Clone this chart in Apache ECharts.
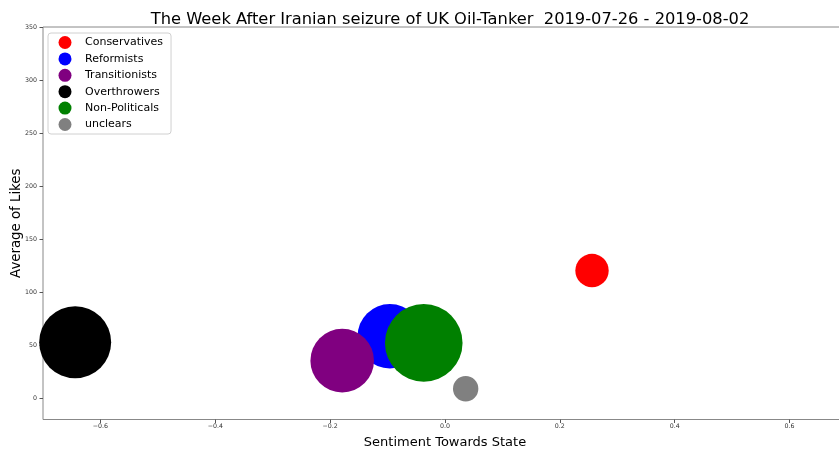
<!DOCTYPE html>
<html>
<head>
<meta charset="utf-8">
<script src="https://cdn.jsdelivr.net/npm/echarts@6/dist/echarts.min.js"></script>
<style>html,body{margin:0;padding:0;background:#fff}#c{width:839px;height:450px}</style>
</head>
<body>
<div id="c"></div>
<script>
const groups = ['Conservatives', 'Reformists', 'Transitionists', 'Overthrowers', 'Non-Politicals', 'unclears'];
const sentiment = [0.256, -0.096, -0.179, -0.644, -0.037, 0.036];
const avgLikes = [120.4, 58.5, 35.5, 52.8, 52.2, 9.0];
const weight = [279, 1043, 1011, 1296, 1505, 161];
const colors = ['#ff0000', '#0000ff', '#800080', '#000000', '#008000', '#808080'];
const xTicks = [-0.6, -0.4, -0.2, 0.0, 0.2, 0.4, 0.6];
const yTicks = [0, 50, 100, 150, 200, 250, 300, 350];

const font = 'DejaVu Sans';
const chart = echarts.init(document.getElementById('c'), null, {renderer: 'canvas'});
const series = groups.map((g, i) => ({
  name: g,
  type: 'scatter',
  data: [[sentiment[i], avgLikes[i], weight[i]]],
  symbolSize: d => 2 * Math.sqrt(d[2]),
  itemStyle: {color: colors[i], opacity: 1},
  emphasis: {disabled: true},
  z: 2 + i
}));
chart.setOption({
  animation: false,
  backgroundColor: '#fff',
  title: {
    text: 'The Week After Iranian seizure of UK Oil-Tanker  2019-07-26 - 2019-08-02',
    left: 445, textAlign: 'center', top: 6.5,
    textStyle: {fontFamily: font, fontSize: 16.3, fontWeight: 'normal', color: '#000'}
  },
  legend: {
    left: 48, top: 33, orient: 'vertical',
    icon: 'circle', itemWidth: 13, itemHeight: 13, itemGap: 3.4,
    padding: [3, 8, 3, 10.5],
    borderColor: '#d0d0d0', borderWidth: 1, borderRadius: 3,
    backgroundColor: 'rgba(255,255,255,0.8)',
    textStyle: {fontFamily: font, fontSize: 11, color: '#000', padding: [0, 0, 0, 8.5]},
    data: groups
  },
  grid: {left: 43, right: -8, top: 27, bottom: 30.5, outerBoundsMode: 'none', containLabel: false,
    show: true, borderColor: '#888', borderWidth: 1, backgroundColor: 'transparent'},
  xAxis: {
    type: 'value', min: -0.7, max: 0.7,
    name: 'Sentiment Towards State', nameLocation: 'middle', nameGap: 16.5, nameMoveOverlap: false,
    nameTextStyle: {fontFamily: font, fontSize: 13, color: '#000'},
    axisLine: {show: false, onZero: false},
    axisTick: {show: true, length: 3.5, lineStyle: {color: '#555'}, customValues: xTicks},
    axisLabel: {fontFamily: font, fontSize: 6.3, color: '#333', margin: 4, customValues: xTicks,
      formatter: v => v.toFixed(1).replace('-', '\u2212')},
    splitLine: {show: false}
  },
  yAxis: {
    type: 'value', min: -20, max: 350,
    name: 'Average of Likes', nameLocation: 'middle', nameGap: 20, nameRotate: 90, nameMoveOverlap: false,
    nameTextStyle: {fontFamily: font, fontSize: 13.3, color: '#000'},
    axisLine: {show: false, onZero: false},
    axisTick: {show: true, length: 3.5, lineStyle: {color: '#555'}, customValues: yTicks},
    axisLabel: {fontFamily: font, fontSize: 6.3, color: '#333', margin: 6, customValues: yTicks,
      formatter: v => String(v)},
    splitLine: {show: false}
  },
  series: series
});
</script>
</body>
</html>
